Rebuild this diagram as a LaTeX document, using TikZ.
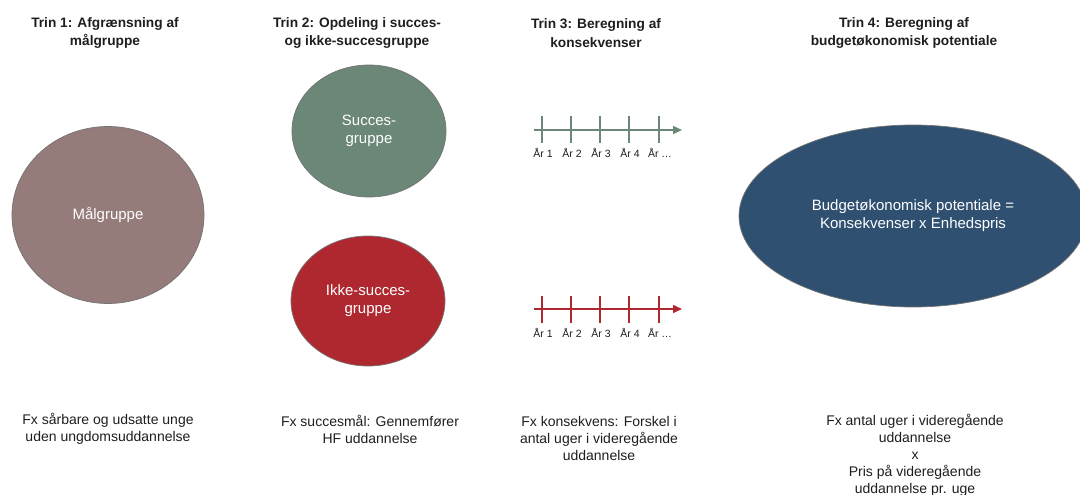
\documentclass[tikz,border=0pt]{standalone}
\usepackage{fontspec}
\setmainfont{Liberation Sans}
\usetikzlibrary{shapes.geometric,arrows.meta}
\definecolor{cMal}{HTML}{957B7A}
\definecolor{cSuc}{HTML}{6B8777}
\definecolor{cIkke}{HTML}{B0282F}
\definecolor{cBud}{HTML}{2F5070}
\definecolor{cTxt}{HTML}{1E1E1E}
\tikzset{
  blob/.style={ellipse, draw=black!55, line width=0.7pt, inner sep=0pt, text=white, align=center,
    font=\fontsize{15}{18}\selectfont},
  title/.style={align=center, text=cTxt, font=\fontsize{13.7}{18.5}\selectfont\bfseries},
  note/.style={align=center, text=cTxt, font=\fontsize{14}{17}\selectfont},
  yr/.style={text=cTxt, font=\fontsize{10.5}{12}\selectfont, inner sep=0pt},
  tl/.style={line width=1.5pt},
  tick/.style={line width=1.3pt},
  tip/.style={-{Triangle[length=9pt,width=8pt]}},
}
\begin{document}
\begin{tikzpicture}[x=1pt,y=-1pt]
\useasboundingbox (0,0) rectangle (1080,495);
% titles
\node[title] (t1) at (105,33) {Trin 1: Afgrænsning af\\målgruppe};
\node[title] (t2) at (357,33) {Trin 2: Opdeling i succes-\\og ikke-succesgruppe};
\node[title] (t3) at (596,33) {Trin 3: Beregning af\\konsekvenser};
\node[title] (t4) at (904,33) {Trin 4: Beregning af\\budgetøkonomisk potentiale};
% ellipses
\node[blob, fill=cMal, minimum width=192pt, minimum height=177pt] (mal) at (108,215) {Målgruppe};
\node[blob, fill=cSuc, minimum width=154pt, minimum height=132pt] (suc) at (369,131) {Succes-\\gruppe};
\node[blob, fill=cIkke, minimum width=154pt, minimum height=130pt] (ikke) at (368,301) {Ikke-succes-\\gruppe};
\begin{scope}
\clip (0,0) rectangle (1080,495);
\node[blob, fill=cBud, minimum width=348pt, minimum height=182pt] (bud) at (913,216) {Budgetøkonomisk potentiale =\\Konsekvenser x Enhedspris};
\end{scope}
% green timeline
\coordinate (gs) at (534,130);
\coordinate (ge) at (682,130);
\draw[tl, cSuc, tip] (gs) -- (ge);
\foreach \x/\l [count=\i] in {542/1,571/2,600/3,629/4,659/\dots} {
  \draw[tick, cSuc] (\x,116) -- (\x,143);
  \node[yr] (gy\i) at (\x+1,153) {År \l};
}
% red timeline
\coordinate (rs) at (534,309);
\coordinate (re) at (682,309);
\draw[tl, cIkke, tip] (rs) -- (re);
\foreach \x/\l [count=\i] in {542/1,571/2,600/3,629/4,659/\dots} {
  \draw[tick, cIkke] (\x,296) -- (\x,323);
  \node[yr] (ry\i) at (\x+1,333) {År \l};
}
% notes
\node[note] (n1) at (108,429) {Fx sårbare og udsatte unge\\uden ungdomsuddannelse};
\node[note] (n2) at (370,429) {Fx succesmål: Gennemfører\\HF uddannelse};
\node[note] (n3) at (599,438) {Fx konsekvens: Forskel i\\antal uger i videregående\\uddannelse};
\node[note] (n4) at (915,455) {Fx antal uger i videregående\\uddannelse\\x\\Pris på videregående\\uddannelse pr. uge};
\end{tikzpicture}
\end{document}
